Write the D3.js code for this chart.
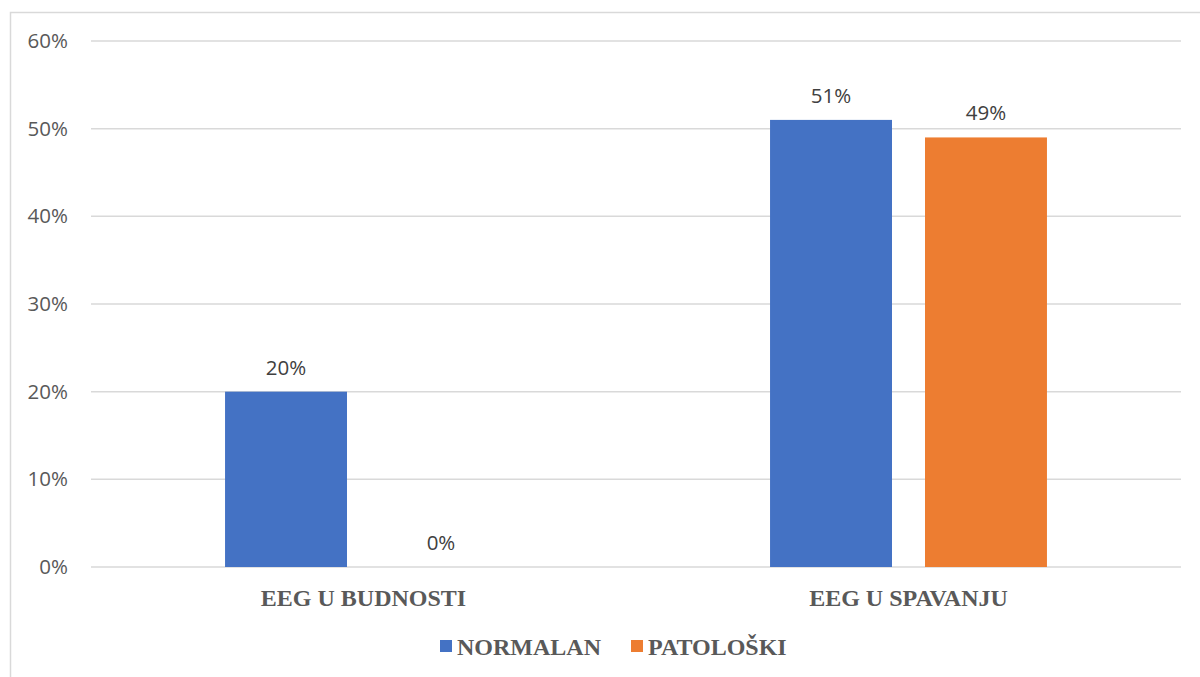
<!DOCTYPE html>
<html><head><meta charset="utf-8">
<script src="https://cdn.jsdelivr.net/npm/d3@7"></script>
<style>body{margin:0;background:#fff}svg{display:block}</style>
</head><body>
<svg id="c" width="1200" height="677"></svg>
<script>
const categories = ["EEG U BUDNOSTI", "EEG U SPAVANJU"];
const seriesNames = ["NORMALAN", "PATOLOŠKI"];
const normalan = [0.20, 0.51];
const patoloski = [0.00, 0.49];
const yTicks = [0, 0.1, 0.2, 0.3, 0.4, 0.5, 0.6];
const colors = ["#4472C4", "#ED7D31"];

const svg = d3.select("#c");
svg.append("rect").attr("x",10.5).attr("y",12.5).attr("width",1200).attr("height",700)
  .attr("fill","#fff").attr("stroke","#d9d9d9").attr("stroke-width",1.5);

const L=91, R=1181, T=41, B=567;
const x0 = d3.scaleBand().domain(categories).range([L,R]);
const x1 = d3.scaleBand().domain(seriesNames).range([0,x0.bandwidth()]).paddingInner(0.213).paddingOuter(0.865);
const y = d3.scaleLinear().domain([0,0.6]).range([B,T]);

const g = svg.append("g");
g.selectAll("line.grid").data(yTicks).join("line")
  .attr("x1",L).attr("x2",R).attr("y1",d=>y(d)).attr("y2",d=>y(d))
  .attr("stroke","#d9d9d9").attr("stroke-width",1.5);

const yAxis = d3.axisLeft(y).tickValues(yTicks).tickFormat(d3.format(".0%")).tickSize(0).tickPadding(23);
const ya = svg.append("g").attr("transform",`translate(${L},0)`).call(yAxis);
ya.select(".domain").remove();
ya.selectAll("text").attr("font-family","Open Sans, sans-serif").attr("font-size",20.5).attr("fill","#595959");

const data = [normalan, patoloski];
categories.forEach((c,i)=>{
  seriesNames.forEach((s,j)=>{
    const v = data[j][i];
    const bx = x0(c)+x1(s);
    g.append("rect").attr("x",bx).attr("y",y(v)).attr("width",x1.bandwidth()).attr("height",B-y(v)).attr("fill",colors[j]);
    g.append("text").attr("x",bx+x1.bandwidth()/2).attr("y",y(v)-17).attr("text-anchor","middle")
      .attr("font-family","Open Sans, sans-serif").attr("font-size",20.5).attr("fill","#404040")
      .text(d3.format(".0%")(v));
  });
});

const xa = svg.append("g");
xa.selectAll("text").data(categories).join("text")
  .attr("x",d=>x0(d)+x0.bandwidth()/2).attr("y",606).attr("text-anchor","middle")
  .attr("font-family","Liberation Serif, Times New Roman, serif").attr("font-weight","bold")
  .attr("font-size",24).attr("fill","#595959").text(d=>d);

const legX = [440, 631];
seriesNames.forEach((s,j)=>{
  svg.append("rect").attr("x",legX[j]).attr("y",640).attr("width",12).attr("height",12).attr("fill",colors[j]);
  svg.append("text").attr("x",legX[j]+17).attr("y",655).attr("font-family","Liberation Serif, Times New Roman, serif")
    .attr("font-weight","bold").attr("font-size",24).attr("fill","#595959").text(s);
});
</script>
</body></html>
